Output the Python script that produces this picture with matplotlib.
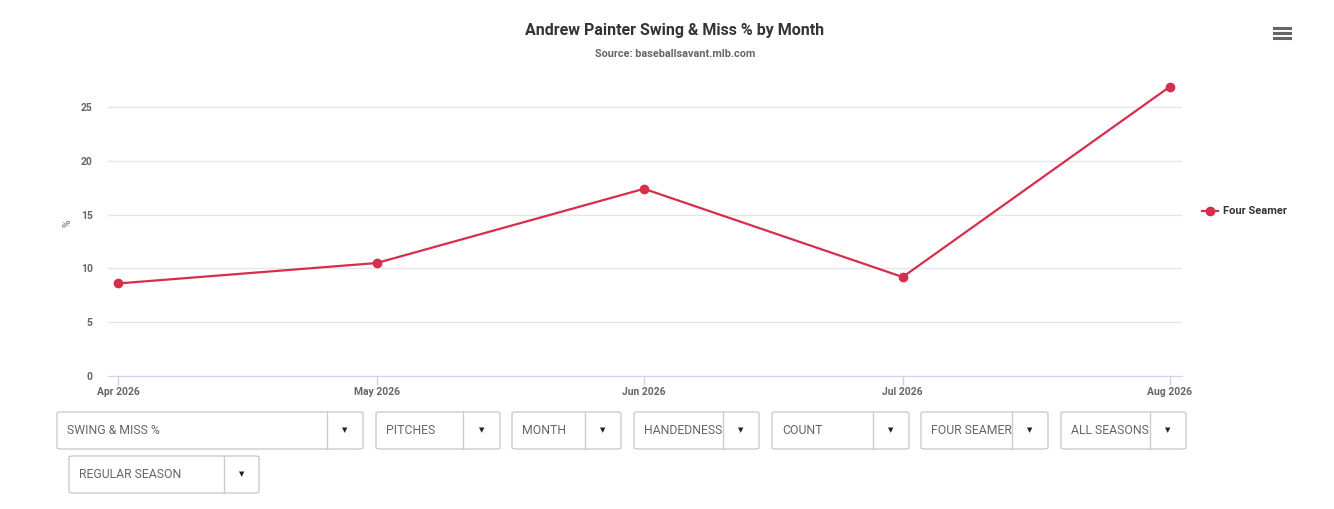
import datetime as dt
import matplotlib
matplotlib.use("Agg")
import matplotlib.pyplot as plt
import matplotlib.dates as mdates
from matplotlib.patches import FancyBboxPatch
from matplotlib.lines import Line2D

plt.rcParams['font.family'] = ['Roboto', 'DejaVu Sans']

# data
months = [dt.date(2026, 4, 1), dt.date(2026, 5, 1), dt.date(2026, 6, 1),
          dt.date(2026, 7, 1), dt.date(2026, 8, 1)]
month_labels = ['Apr 2026', 'May 2026', 'Jun 2026', 'Jul 2026', 'Aug 2026']
swing_miss = [8.6, 10.5, 17.4, 9.2, 26.9]
series_name = 'Four Seamer'
y_ticks = [0, 5, 10, 15, 20, 25]

# filter dropdowns: (label, left px, right px, divider px, row)
dropdowns = [
    ('SWING & MISS %', 57, 363, 327, 0),
    ('PITCHES', 376, 500, 463, 0),
    ('MONTH', 512, 621, 585, 0),
    ('HANDEDNESS', 634, 759, 723, 0),
    ('COUNT', 772, 909, 873, 0),
    ('FOUR SEAMER', 921, 1048, 1012, 0),
    ('ALL SEASONS', 1061, 1186, 1150, 0),
    ('REGULAR SEASON', 69, 259, 224, 1),
]

W, H = 1334, 509
RED = '#d62e4c'
GREY = '#666666'

fig = plt.figure(figsize=(W / 100, H / 100), dpi=100)
ax = fig.add_axes([108 / W, 1 - 376 / H, (1182 - 108) / W, (376 - 85.5) / H])

ax.plot(months, swing_miss, color=RED, lw=1.6, marker='o', ms=6, zorder=3, clip_on=False)

ax.set_ylim(0, 27)
ax.set_xlim(mdates.date2num(months[0]) - 1.16, mdates.date2num(months[-1]) + 1.39)
ax.set_yticks(y_ticks)
ax.set_xticks(months)
ax.set_xticklabels(month_labels)
ax.grid(axis='y', color='#e6e6e6', lw=1)
ax.set_axisbelow(True)
for s in ['top', 'right', 'left']:
    ax.spines[s].set_visible(False)
ax.spines['bottom'].set_color('#ccd6eb')
ax.tick_params(axis='x', colors='#ccd6eb', length=6.5, width=1, pad=1.5, labelcolor=GREY)
ax.tick_params(axis='y', length=0, pad=11, labelcolor=GREY)
for lab in ax.get_xticklabels() + ax.get_yticklabels():
    lab.set_fontsize(7.5)
    lab.set_fontweight('bold')
ax.set_ylabel('%', fontsize=7.5, color=GREY)
ax.yaxis.set_label_coords(-0.033, 0.525)

fig.text(675 / W, 1 - 30 / H, 'Andrew Painter Swing & Miss % by Month',
         ha='center', va='center', fontsize=11.5, fontweight='bold', color='#333333')
fig.text(675 / W, 1 - 54 / H, 'Source: baseballsavant.mlb.com',
         ha='center', va='center', fontsize=7.8, fontweight='bold', color=GREY)

# legend
fig.add_artist(Line2D([1202 / W, 1218 / W], [1 - 211 / H] * 2, color=RED, lw=1.6,
                      transform=fig.transFigure))
fig.add_artist(Line2D([1210 / W], [1 - 211 / H], color=RED, marker='o', ms=6,
                      transform=fig.transFigure))
fig.text(1223 / W, 1 - 211 / H, series_name, ha='left', va='center',
         fontsize=8, fontweight='bold', color='#333333')

# hamburger menu
for yy in [28, 33, 38]:
    fig.add_artist(Line2D([1274 / W, 1290 / W], [1 - yy / H] * 2, color=GREY, lw=2.2,
                          transform=fig.transFigure))

# dropdown boxes
for label, x0, x1, xd, row in dropdowns:
    top = 412 + row * 44
    bot = top + 37
    box = FancyBboxPatch((x0 / W, 1 - bot / H), (x1 - x0) / W, (bot - top) / H,
                         boxstyle='round,pad=0,rounding_size=0.003',
                         fc='white', ec='#cccccc', lw=1, transform=fig.transFigure)
    fig.add_artist(box)
    fig.add_artist(Line2D([xd / W] * 2, [1 - top / H, 1 - bot / H], color='#cccccc',
                          lw=1, transform=fig.transFigure))
    t = fig.text((x0 + 10) / W, 1 - (top + bot) / 2 / H, label, ha='left', va='center',
                 fontsize=8.8, color=GREY)
    t.set_clip_box(matplotlib.transforms.Bbox.from_extents(x0, H - bot, xd, H - top))
    t.set_clip_on(True)
    fig.text((xd + x1) / 2 / W, 1 - (top + bot) / 2 / H, '\u25bc', ha='center',
             va='center', fontsize=5, color='#222222', family='DejaVu Sans')

fig.savefig('out.png', dpi=100, facecolor='white')
